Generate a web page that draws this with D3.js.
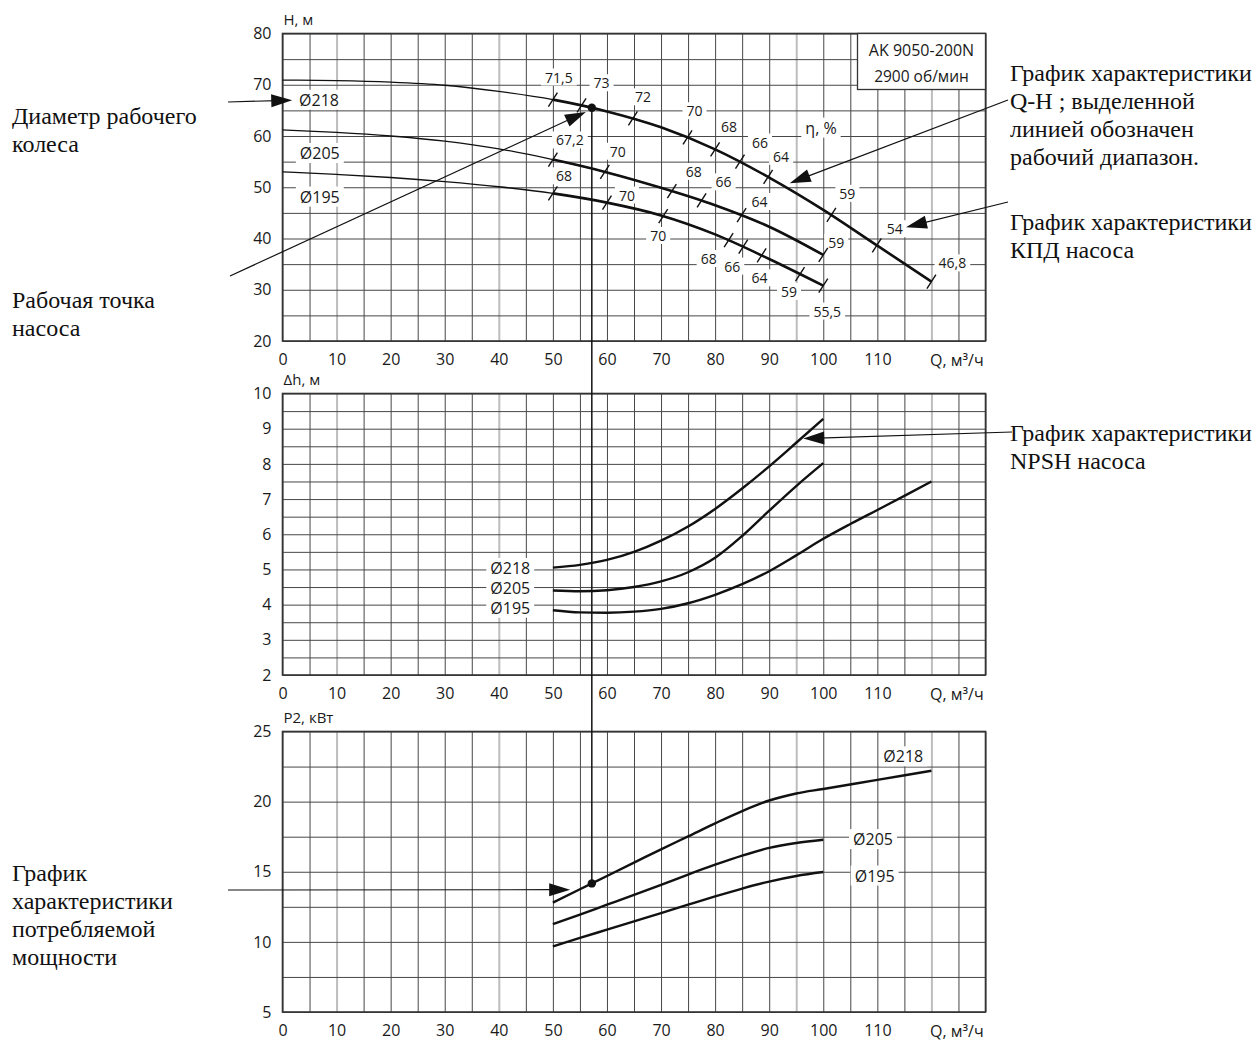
<!DOCTYPE html>
<html>
<head>
<meta charset="utf-8">
<script src="https://cdn.jsdelivr.net/npm/d3@7"></script>
<style>
  body { margin: 0; background: #fff; }
  svg text { font-family: "Open Sans", "Noto Sans", sans-serif; fill: #1a1a1a; }
  svg text.note { font-family: "Liberation Serif", "DejaVu Serif", serif; font-size: 24px; fill: #111; }
</style>
</head>
<body>
<svg id="chart" width="1260" height="1042"></svg>
<script>
// tick labels
let qTicks = [0, 10, 20, 30, 40, 50, 60, 70, 80, 90, 100, 110];
let hTicks = [20, 30, 40, 50, 60, 70, 80];
let npshTicks = [2, 3, 4, 5, 6, 7, 8, 9, 10];
let pTicks = [5, 10, 15, 20, 25];

let diameters = ['Ø218', 'Ø205', 'Ø195'];

// Q-H curves (Q, м3/ч -> H, м)
let qh218Q = [0, 10, 20, 30, 40, 50, 60, 70, 80, 90, 100, 110, 120];
let qh218H = [70.9, 70.8, 70.5, 69.9, 68.7, 67.1, 64.8, 61.7, 57.4, 51.9, 45.6, 38.6, 31.6];
let qh205Q = [0, 10, 20, 30, 40, 50, 60, 70, 80, 90, 100];
let qh205H = [61.2, 60.7, 60.0, 59.0, 57.5, 55.4, 52.9, 49.9, 46.5, 42.3, 36.8];
let qh195Q = [0, 10, 20, 30, 40, 50, 60, 70, 80, 90, 100];
let qh195H = [53.0, 52.5, 51.9, 51.1, 50.1, 48.8, 47.0, 44.5, 40.8, 36.0, 30.8];

// start of the working range
let workStartQ = 50;

// efficiency marks on the Q-H curves
let eff218Q = [50, 55.3, 64.8, 74.9, 80, 84.6, 89.8, 101.5, 109.9, 120];
let eff218Lbl = ['71,5', '73', '72', '70', '68', '66', '64', '59', '54', '46,8'];
let eff205Q = [50, 59.6, 72, 77.5, 84.9, 100];
let eff205Lbl = ['67,2', '70', '68', '66', '64', '59'];
let eff195Q = [50, 60, 70.4, 82.5, 85.2, 88.6, 95.7, 100];
let eff195Lbl = ['68', '70', '70', '68', '66', '64', '59', '55,5'];

// NPSH curves (Q -> Δh, м)
let npshQ = [50, 55, 60, 65, 70, 75, 80, 85, 90, 95, 100];
let npsh218 = [5.05, 5.13, 5.27, 5.5, 5.82, 6.22, 6.72, 7.3, 7.93, 8.6, 9.28];
let npsh205 = [4.4, 4.38, 4.41, 4.5, 4.66, 4.92, 5.33, 5.95, 6.67, 7.37, 8.02];
let npsh195Q = [50, 55, 60, 65, 70, 75, 80, 85, 90, 95, 100, 105, 110, 115, 120];
let npsh195 = [3.84, 3.78, 3.77, 3.8, 3.88, 4.04, 4.28, 4.58, 4.95, 5.4, 5.87, 6.29, 6.69, 7.09, 7.5];

// power curves (Q -> P2, кВт)
let p218Q = [50, 55, 60, 65, 70, 75, 80, 85, 90, 95, 100, 110, 120];
let p218 = [12.8, 13.75, 14.7, 15.65, 16.6, 17.52, 18.45, 19.33, 20.08, 20.58, 20.9, 21.55, 22.2];
let p205Q = [50, 55, 60, 65, 70, 75, 80, 85, 90, 95, 100];
let p205 = [11.27, 11.95, 12.65, 13.35, 14.07, 14.8, 15.5, 16.15, 16.7, 17.05, 17.28];
let p195Q = [50, 55, 60, 65, 70, 75, 80, 85, 90, 95, 100];
let p195 = [9.68, 10.28, 10.87, 11.46, 12.05, 12.65, 13.24, 13.8, 14.3, 14.7, 14.98];

// operating point flow
let opQ = 57.2;

let svg = d3.select('#chart');

// scales
let x = d3.scaleLinear().domain([0, 130]).range([282.5, 985.5]);
let yH = d3.scaleLinear().domain([20, 80]).range([341, 33.5]);
let yN = d3.scaleLinear().domain([2, 10]).range([675, 393.5]);
let yP = d3.scaleLinear().domain([5, 25]).range([1012, 731.5]);

// lighter (thicker) grid columns, as on the scan
let lightQ = [10, 40, 95, 120];

let panels = [
  {y: yH, step: 5, ticks: hTicks, title: 'H, м'},
  {y: yN, step: 0.5, ticks: npshTicks, title: 'Δh, м'},
  {y: yP, step: 2.5, ticks: pTicks, title: 'P2, кВт'}
];

let gGrid = svg.append('g');
let gLabels = svg.append('g');
let gCurves = svg.append('g');
let gNotes = svg.append('g');

panels.forEach(p => {
  let [v0, v1] = p.y.domain();
  let top = p.y(v1), bot = p.y(v0);
  let g = gGrid.append('g');

  // vertical grid
  g.append('g')
    .attr('transform', `translate(0,${bot})`)
    .call(d3.axisBottom(x).tickValues(d3.range(0, 131, 5)).tickSize(-(bot - top)).tickFormat(''))
    .call(a => a.select('.domain').remove())
    .call(a => a.selectAll('.tick line')
      .attr('stroke', d => lightQ.includes(d) ? '#bdbdbd' : '#474747')
      .attr('stroke-width', d => lightQ.includes(d) ? 2 : 1));

  // horizontal grid
  g.append('g')
    .attr('transform', `translate(${x(0)},0)`)
    .call(d3.axisLeft(p.y).tickValues(d3.range(v0, v1 + 0.001, p.step)).tickSize(-(x(130) - x(0))).tickFormat(''))
    .call(a => a.select('.domain').remove())
    .call(a => a.selectAll('.tick line').attr('stroke', '#474747').attr('stroke-width', 1));

  // frame
  g.append('rect')
    .attr('x', x(0)).attr('y', top)
    .attr('width', x(130) - x(0)).attr('height', bot - top)
    .attr('fill', 'none').attr('stroke', '#333').attr('stroke-width', 1.6);

  // y tick labels
  g.append('g')
    .attr('transform', `translate(${x(0)},0)`)
    .call(d3.axisLeft(p.y).tickValues(p.ticks).tickSize(0).tickPadding(11).tickFormat(d3.format('d')))
    .call(a => a.select('.domain').remove())
    .call(a => a.selectAll('text').attr('font-size', 16).attr('font-family', null));

  // x tick labels
  g.append('g')
    .attr('transform', `translate(0,${bot})`)
    .call(d3.axisBottom(x).tickValues(qTicks).tickSize(0).tickPadding(13).tickFormat(d3.format('d')))
    .call(a => a.select('.domain').remove())
    .call(a => a.selectAll('text').attr('font-size', 16).attr('font-family', null));

  g.append('text')
    .attr('x', 930).attr('y', bot + 19).attr('dy', '0.35em')
    .attr('font-size', 16)
    .text('Q, м³/ч');

  // axis title
  g.append('text')
    .attr('x', x(0) + 1).attr('y', top - 9)
    .attr('font-size', 15)
    .text(p.title);
});

// model box
let boxX = 857.5, boxY = yH(80), boxH = 56;
gGrid.append('rect')
  .attr('x', boxX).attr('y', boxY)
  .attr('width', x(130) - boxX).attr('height', boxH)
  .attr('fill', '#fff').attr('stroke', '#333').attr('stroke-width', 1.3);
gGrid.append('text')
  .attr('x', (boxX + x(130)) / 2).attr('y', boxY + 17).attr('dy', '0.35em')
  .attr('text-anchor', 'middle').attr('font-size', 16)
  .text('AK 9050-200N');
gGrid.append('text')
  .attr('x', (boxX + x(130)) / 2).attr('y', boxY + 43).attr('dy', '0.35em')
  .attr('text-anchor', 'middle').attr('font-size', 15.5)
  .text('2900 об/мин');

// text with a white patch behind it
function label(px, py, txt, size, anchor, pad) {
  let g = gLabels.append('g');
  let t = g.append('text')
    .attr('x', px).attr('y', py).attr('dy', '0.35em')
    .attr('text-anchor', anchor || 'middle')
    .attr('font-size', size)
    .text(txt);
  let b = t.node().getBBox();
  pad = pad || 3;
  g.insert('rect', 'text')
    .attr('x', b.x - pad).attr('y', b.y + 1)
    .attr('width', b.width + 2 * pad).attr('height', b.height - 2)
    .attr('fill', '#fff');
}

// find the drawn point of a path at a given pixel x
function pointAtX(node, px) {
  let lo = 0, hi = node.getTotalLength();
  for (let i = 0; i < 40; i++) {
    let mid = (lo + hi) / 2;
    if (node.getPointAtLength(mid).x < px) lo = mid; else hi = mid;
  }
  return node.getPointAtLength(lo);
}

function curve(qs, vs, yScale, width, clipId) {
  let line = d3.line()
    .x(d => x(d[0])).y(d => yScale(d[1]))
    .curve(d3.curveMonotoneX);
  return gCurves.append('path')
    .datum(d3.zip(qs, vs))
    .attr('d', line)
    .attr('fill', 'none')
    .attr('stroke', '#111')
    .attr('stroke-width', width)
    .attr('stroke-linejoin', 'round')
    .attr('clip-path', clipId ? `url(#${clipId})` : null);
}

// clip for the working range of Q-H
svg.append('clipPath').attr('id', 'work')
  .append('rect')
  .attr('x', x(workStartQ)).attr('y', 0)
  .attr('width', x(130) - x(workStartQ) + 10).attr('height', 400);

// Q-H: label offsets of efficiency values (px from the mark)
let effOff218 = [[6, -22], [20, -22], [10, -21], [7, -26], [14, -22], [20, -19], [13, -20], [16, -21], [18, -16], [21, -18]];
let effOff205 = [[17, -19], [13, -20], [22, -19], [22, -18], [18, -13], [13, -12]];
let effOff195 = [[11, -17], [20, -7], [-5, 20], [-20, 19], [-11, 20], [-2, 23], [-11, 18], [4, 26]];

let qhSets = [
  {q: qh218Q, h: qh218H, effQ: eff218Q, effLbl: eff218Lbl, off: effOff218, lbl: [6.75, 67]},
  {q: qh205Q, h: qh205H, effQ: eff205Q, effLbl: eff205Lbl, off: effOff205, lbl: [6.9, 56.6]},
  {q: qh195Q, h: qh195H, effQ: eff195Q, effLbl: eff195Lbl, off: effOff195, lbl: [6.9, 48.1]}
];

let qhPaths = [];
qhSets.forEach((s, i) => {
  let thin = curve(s.q, s.h, yH, 1.3);
  curve(s.q, s.h, yH, 2.6, 'work');
  qhPaths.push(thin);
  label(x(s.lbl[0]), yH(s.lbl[1]), diameters[i], 16, 'middle', 4);

  s.effQ.forEach((q, j) => {
    let pt = pointAtX(thin.node(), x(q));
    gCurves.append('line')
      .attr('x1', pt.x - 4.5).attr('y1', pt.y + 7)
      .attr('x2', pt.x + 4.5).attr('y2', pt.y - 7)
      .attr('stroke', '#111').attr('stroke-width', 1.4);
    label(pt.x + s.off[j][0], pt.y + s.off[j][1], s.effLbl[j], 14, 'middle', 4);
  });
});

label(821, 128, 'η, %', 16, 'middle', 4);

// NPSH
curve(npshQ, npsh218, yN, 2.4);
curve(npshQ, npsh205, yN, 2.4);
curve(npsh195Q, npsh195, yN, 2.4);
let npshLbl = [5.03, 4.46, 3.9];
npshLbl.forEach((v, i) => label(x(45.8), yN(v), diameters[i], 16, 'end', 4));

// power
let p218Path = curve(p218Q, p218, yP, 2.4);
curve(p205Q, p205, yP, 2.4);
curve(p195Q, p195, yP, 2.4);
let pLbl = [[114.8, 23.2], [109.2, 17.3], [109.5, 14.7]];
pLbl.forEach((v, i) => label(x(v[0]), yP(v[1]), diameters[i], 16, 'middle', 4));

// operating point
let opTop = pointAtX(qhPaths[0].node(), x(opQ));
let opBot = pointAtX(p218Path.node(), x(opQ));
gCurves.append('line')
  .attr('x1', opTop.x).attr('x2', opTop.x)
  .attr('y1', opTop.y).attr('y2', opBot.y)
  .attr('stroke', '#111').attr('stroke-width', 1.5);
[opTop, opBot].forEach(p => {
  gCurves.append('circle').attr('cx', p.x).attr('cy', p.y).attr('r', 4.2).attr('fill', '#111');
});

// annotation arrows
function arrow(x1, y1, x2, y2) {
  let dx = x2 - x1, dy = y2 - y1, len = Math.sqrt(dx * dx + dy * dy);
  let ux = dx / len, uy = dy / len;
  let hl = 21, hw = 6.5;
  gNotes.append('line')
    .attr('x1', x1).attr('y1', y1)
    .attr('x2', x2 - ux * hl * 0.7).attr('y2', y2 - uy * hl * 0.7)
    .attr('stroke', '#111').attr('stroke-width', 1.2);
  let bx = x2 - ux * hl, by = y2 - uy * hl;
  gNotes.append('path')
    .attr('d', `M${x2},${y2}L${bx - uy * hw},${by + ux * hw}L${bx + uy * hw},${by - ux * hw}Z`)
    .attr('fill', '#111');
}

arrow(228, 102, x(1.8), yH(67));
arrow(230, 276, x(56.1), yH(64.7));
arrow(1008, 100, x(93.8), yH(50.8));
arrow(1008, 202, x(115.3), yH(42.2));
arrow(1012, 432, x(96.3), yN(8.72));
arrow(228, 890, x(53.2), yP(13.72));

// side notes
let notes = [
  {x: 12, y: 116, lines: ['Диаметр рабочего', 'колеса']},
  {x: 12, y: 300, lines: ['Рабочая точка', 'насоса']},
  {x: 12, y: 873, lines: ['График', 'характеристики', 'потребляемой', 'мощности']},
  {x: 1010, y: 73, lines: ['График характеристики', 'Q-H ; выделенной', 'линией обозначен', 'рабочий диапазон.']},
  {x: 1010, y: 222, lines: ['График характеристики', 'КПД насоса']},
  {x: 1010, y: 433, lines: ['График характеристики', 'NPSH насоса']}
];

notes.forEach(n => {
  n.lines.forEach((s, i) => {
    gNotes.append('text')
      .attr('class', 'note')
      .attr('x', n.x).attr('y', n.y + i * 28).attr('dy', '0.35em')
      .text(s);
  });
});
</script>
</body>
</html>
